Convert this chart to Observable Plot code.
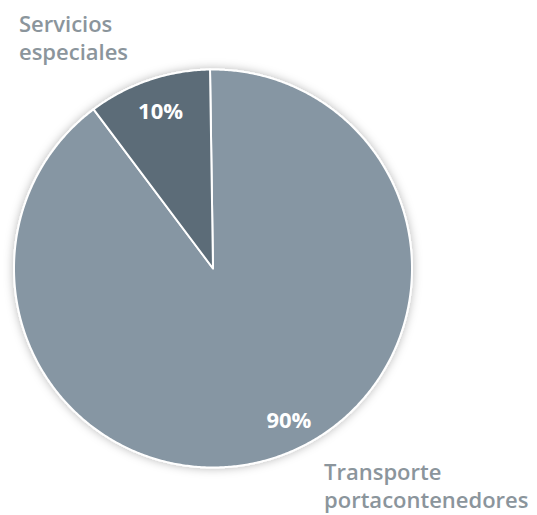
<!DOCTYPE html>
<html>
<head>
<meta charset="utf-8">
<script src="https://cdn.jsdelivr.net/npm/d3@7"></script>
<script src="https://cdn.jsdelivr.net/npm/@observablehq/plot@0.6"></script>
<style>
  html, body { margin: 0; padding: 0; background: #fff; }
  #chart { width: 537px; height: 515px; }
</style>
</head>
<body>
<div id="chart"></div>
<script>
// ---- Data ----
const categories = ["Transporte portacontenedores", "Servicios especiales"];
const shares = [90, 10];
const percentLabels = ["90%", "10%"];
const categoryLabels = ["Transporte\nportacontenedores", "Servicios\nespeciales"];

// ---- Style / layout config ----
const sliceColors = ["#8696a3", "#5b6c78"];
const labelGray = "#8b959c";
const startRotation = -0.015; // radians
const percentPlacement = [{angle: 153.5, r: 0.855}, {angle: -18.5, r: 0.83}];
const categoryPlacement = [{x: 0.558, y: -0.965}, {x: -0.975, y: 1.285}];

// ---- Geometry from data via d3.pie ----
const pie = d3.pie().sort(null).startAngle(startRotation).endAngle(2 * Math.PI + startRotation);
const arcs = pie(shares);
const slicePoints = [];
arcs.forEach((a, i) => {
  slicePoints.push({name: categories[i], x: 0, y: 0});
  const n = Math.max(2, Math.ceil((a.endAngle - a.startAngle) / (Math.PI / 360)));
  for (let k = 0; k <= n; k++) {
    const t = a.startAngle + (a.endAngle - a.startAngle) * k / n;
    slicePoints.push({name: categories[i], x: Math.sin(t), y: Math.cos(t)});
  }
});

const pctData = percentLabels.map((label, i) => {
  const ang = percentPlacement[i].angle * Math.PI / 180;
  return {label, x: percentPlacement[i].r * Math.sin(ang), y: percentPlacement[i].r * Math.cos(ang)};
});
const catData = categoryLabels.map((label, i) => ({label, x: categoryPlacement[i].x, y: categoryPlacement[i].y}));

const chart = Plot.plot({
  width: 537,
  height: 515,
  marginLeft: 13.5,
  marginRight: 125.5,
  marginTop: 69,
  marginBottom: 48,
  x: {domain: [-1, 1], axis: null},
  y: {domain: [-1, 1], axis: null},
  color: {domain: categories, range: sliceColors},
  style: {fontFamily: "'Open Sans', sans-serif", background: "#fff", overflow: "visible"},
  marks: [
    Plot.line(slicePoints, {x: "x", y: "y", z: "name", fill: "name", stroke: "white", strokeWidth: 2, strokeLinejoin: "round", curve: "linear-closed"}),
    Plot.text(pctData, {x: "x", y: "y", text: "label", fill: "white", fontSize: 22, fontWeight: 700}),
    Plot.text(catData, {x: "x", y: "y", text: "label", fill: labelGray, fontSize: 22, fontWeight: 600, textAnchor: "start", lineAnchor: "top", lineHeight: 1.25})
  ]
});

// soft shadow around the pie
const svg = d3.select(chart);
const defs = svg.insert("defs", ":first-child");
const f = defs.append("filter").attr("id", "pieShadow").attr("x", "-10%").attr("y", "-10%").attr("width", "120%").attr("height", "120%");
f.append("feDropShadow").attr("dx", 0).attr("dy", 0).attr("stdDeviation", 5).attr("flood-color", "#000").attr("flood-opacity", 0.28);
svg.select('g[aria-label="line"]').attr("filter", "url(#pieShadow)");

document.getElementById("chart").appendChild(chart);
</script>
</body>
</html>
